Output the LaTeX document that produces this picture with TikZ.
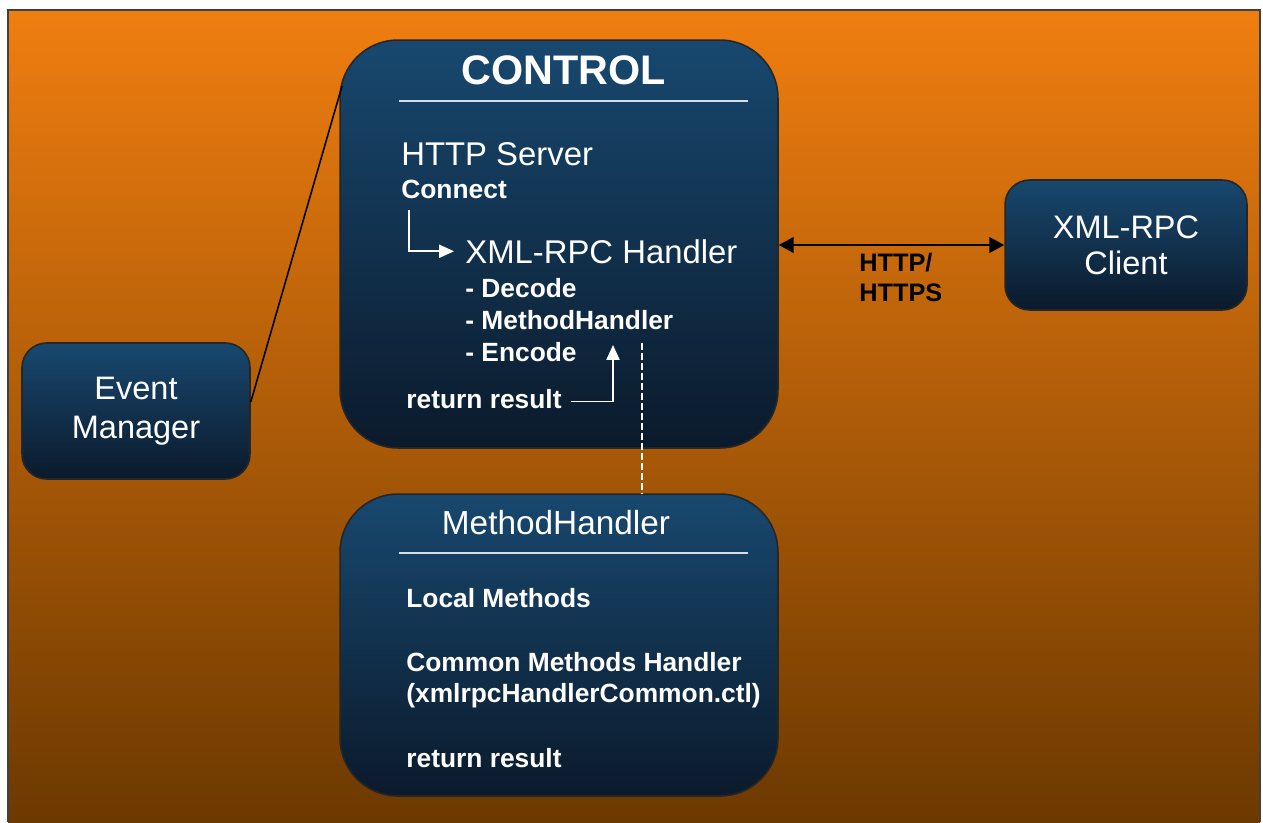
\documentclass[tikz,border=0pt]{standalone}
\usepackage{fontspec}
\setmainfont{Liberation Sans}
\usepackage{xcolor}
\usepackage{tikz}
\usetikzlibrary{arrows.meta,calc}

\definecolor{bgtop}{HTML}{F07E10}
\definecolor{bgmid}{HTML}{C8650E}
\definecolor{bgbot}{HTML}{6C3900}
\definecolor{boxtop}{HTML}{18486F}
\definecolor{boxbot}{HTML}{0B1A2B}
\definecolor{rulegray}{HTML}{D8DEE6}

\begin{document}
\begin{tikzpicture}[
    x=0.02cm, y=-0.02cm,
    box/.style={rectangle, draw=black!85, line width=0.9pt, top color=boxtop, bottom color=boxbot, text=white, align=center, inner sep=0pt},
    bigbox/.style={box, rounded corners=33pt, minimum width=8.76cm},
    smallbox/.style={box, rounded corners=14pt, font=\fontsize{18.5}{20.5}\selectfont},
    ttl/.style={text=white, inner sep=0pt, anchor=base, font=\fontsize{23.5}{28}\selectfont\bfseries},
    big/.style={text=white, inner sep=0pt, anchor=base west, font=\fontsize{18.7}{21}\selectfont},
    sml/.style={text=white, inner sep=0pt, anchor=base west, font=\fontsize{15}{18}\selectfont\bfseries},
    rule/.style={rulegray, line width=0.9pt},
    wflow/.style={white, line width=0.9pt, -{Triangle[length=8.5pt,width=7.5pt]}},
    dflow/.style={black, line width=0.9pt, {Triangle[length=8.5pt,width=9pt]}-{Triangle[length=8.5pt,width=9pt]}}
]
\useasboundingbox (0,0) rectangle (1263,822);

% background panel
\shade[top color=bgtop, middle color=bgmid, bottom color=bgbot] (8,10) rectangle (1260,822);
\draw[black!75, line width=0.7pt] (8,822) -- (8,10) -- (1260,10) -- (1260,822);

% boxes
\node[bigbox, minimum height=8.16cm] (ctrl) at (559,244) {};
\node[bigbox, minimum height=6.04cm] (mh) at (559,645) {};
\node[smallbox, minimum width=4.56cm, minimum height=2.72cm] (evt) at (136,411) {Event\\[2pt]Manager};
\node[smallbox, minimum width=4.84cm, minimum height=2.6cm] (cli) at (1126,245) {XML-RPC\\Client};

% control contents
\node[ttl] (ctrltitle) at (564,84) {CONTROL};
\draw[rule] (399,101) -- (748,101);
\node[big] (http) at (401,165) {HTTP Server};
\node[sml] (conn) at (401,198) {Connect};
\node[big] (xmlh) at (465,263) {XML-RPC Handler};
\node[sml] (dec) at (465,297) {- Decode};
\node[sml] (mth) at (465,329) {- MethodHandler};
\node[sml] (enc) at (465,361) {- Encode};
\node[sml] (ret) at (406,408) {return result};

% method handler contents
\node[ttl, font=\fontsize{19}{22}\selectfont] (mhtitle) at (556,534) {MethodHandler};
\draw[rule] (399,553) -- (748,553);
\node[sml] (loc) at (406,607) {Local Methods};
\node[sml] (com) at (406,671) {Common Methods Handler};
\node[sml] (file) at (406,702) {(xmlrpcHandlerCommon.ctl)};
\node[sml] (ret2) at (406,767) {return result};

% inner arrows
\coordinate (up) at (613,345);
\coordinate (dtop) at (642,343);
\draw[wflow] ([xshift=0.16cm,yshift=-0.22cm]conn.south west) |- ([xshift=-0.22cm]xmlh.west);
\draw[wflow] ([xshift=0.18cm,yshift=-0.06cm]ret.east) -| (up);
\draw[white, line width=0.9pt, dash pattern=on 4pt off 1.7pt] (dtop) -- (dtop |- mh.north);

% links
\coordinate (ctrlin) at (342,86);
\draw[black, line width=0.9pt] ([yshift=0.18cm]evt.east) -- (ctrlin);
\draw[dflow] (ctrl.east |- cli.west) -- (cli.west);
\node[anchor=north west, inner sep=0pt, align=left, font=\fontsize{14.4}{17}\selectfont\bfseries] (proto) at (859,253) {HTTP/\\HTTPS};

\end{tikzpicture}
\end{document}
